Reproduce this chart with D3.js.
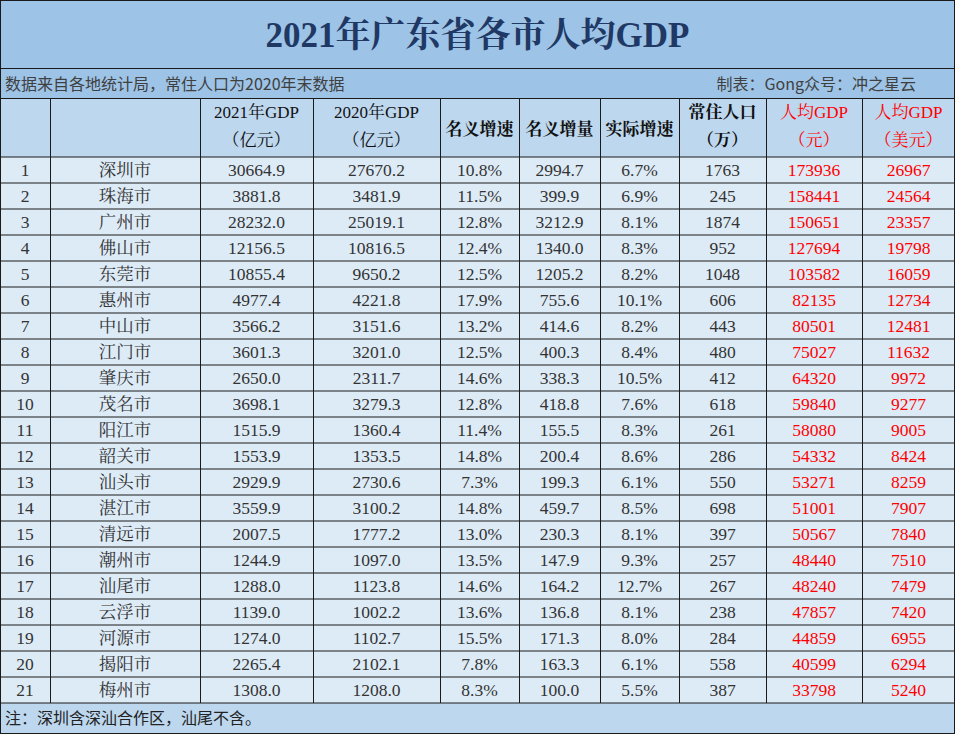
<!DOCTYPE html><html><head><meta charset="utf-8"><script src="https://d3js.org/d3.v7.min.js"></script>
<style>body{margin:0;background:#fff}</style></head><body><script>
const cities=["深圳市","珠海市","广州市","佛山市","东莞市","惠州市","中山市","江门市","肇庆市","茂名市","阳江市","韶关市","汕头市","湛江市","清远市","潮州市","汕尾市","云浮市","河源市","揭阳市","梅州市"];
const gdp2021=["30664.9","3881.8","28232.0","12156.5","10855.4","4977.4","3566.2","3601.3","2650.0","3698.1","1515.9","1553.9","2929.9","3559.9","2007.5","1244.9","1288.0","1139.0","1274.0","2265.4","1308.0"];
const gdp2020=["27670.2","3481.9","25019.1","10816.5","9650.2","4221.8","3151.6","3201.0","2311.7","3279.3","1360.4","1353.5","2730.6","3100.2","1777.2","1097.0","1123.8","1002.2","1102.7","2102.1","1208.0"];
const nomRate=["10.8%","11.5%","12.8%","12.4%","12.5%","17.9%","13.2%","12.5%","14.6%","12.8%","11.4%","14.8%","7.3%","14.8%","13.0%","13.5%","14.6%","13.6%","15.5%","7.8%","8.3%"];
const nomInc=["2994.7","399.9","3212.9","1340.0","1205.2","755.6","414.6","400.3","338.3","418.8","155.5","200.4","199.3","459.7","230.3","147.9","164.2","136.8","171.3","163.3","100.0"];
const realRate=["6.7%","6.9%","8.1%","8.3%","8.2%","10.1%","8.2%","8.4%","10.5%","7.6%","8.3%","8.6%","6.1%","8.5%","8.1%","9.3%","12.7%","8.1%","8.0%","6.1%","5.5%"];
const pop=[1763,245,1874,952,1048,606,443,480,412,618,261,286,550,698,397,257,267,238,284,558,387];
const perCny=[173936,158441,150651,127694,103582,82135,80501,75027,64320,59840,58080,54332,53271,51001,50567,48440,48240,47857,44859,40599,33798];
const perUsd=[26967,24564,23357,19798,16059,12734,12481,11632,9972,9277,9005,8424,8259,7907,7840,7510,7479,7420,6955,6294,5240];
const headers=[["",""],["",""],["2021年GDP","（亿元）"],["2020年GDP","（亿元）"],["名义增速"],["名义增量"],["实际增速"],["常住人口","（万）"],["人均GDP","（元）"],["人均GDP","（美元）"]];
const colW=[50,150,113,127,79,81,79,87,96,93];
const W=955, serif="'Liberation Serif','Noto Serif CJK SC','Noto Sans CJK SC',serif", sans="'Noto Sans CJK SC',sans-serif";
const svg=d3.select("body").append("svg").attr("width",956).attr("height",735);
const colX=[0];colW.forEach(w=>colX.push(colX[colX.length-1]+w));
const rowsData=cities.map((c,i)=>[String(i+1),c,gdp2021[i],gdp2020[i],nomRate[i],nomInc[i],realRate[i],String(pop[i]),String(perCny[i]),String(perUsd[i])]);
const y=d3.scaleBand().domain(d3.range(rowsData.length)).range([157,703]);
const line="#1a1a1a";
svg.append("rect").attr("x",0).attr("y",0).attr("width",W).attr("height",98).attr("fill","#9dc3e6");
svg.append("text").attr("x",W/2).attr("y",47).attr("text-anchor","middle").attr("font-family",serif).attr("font-weight","bold").attr("font-size",35).attr("fill","#1f3864").text("2021年广东省各市人均GDP");
svg.append("text").attr("x",5).attr("y",90).attr("font-family",sans).attr("font-size",16).attr("fill","#404040").text("数据来自各地统计局，常住人口为2020年末数据");
svg.append("text").attr("x",916).attr("y",90).attr("text-anchor","end").attr("font-family",sans).attr("font-size",16).attr("fill","#404040").text("制表：Gong众号：冲之星云");
svg.append("rect").attr("x",0).attr("y",98).attr("width",W).attr("height",59).attr("fill","#bdd7ee");
headers.forEach((h,j)=>{const cx=colX[j]+colW[j]/2;const red=j>=8;
 h.forEach((t,k)=>{if(!t)return;svg.append("text").attr("x",cx).attr("y",h.length==1?135:118+k*28).attr("text-anchor","middle")
 .attr("font-family",serif).attr("font-weight",j>=4&&j<=7?"bold":"normal").attr("font-size",17).attr("fill",red?"#ff0000":"#111").text(t);});});
const g=svg.selectAll("g.row").data(rowsData).join("g").attr("transform",(d,i)=>`translate(0,${y(i)})`);
g.append("rect").attr("width",W).attr("height",y.bandwidth()).attr("fill","#ddebf7");
g.selectAll("text").data(d=>d).join("text").attr("x",(d,j)=>colX[j]+colW[j]/2).attr("y",y.bandwidth()/2+6).attr("text-anchor","middle")
 .attr("font-family",serif).attr("font-size",17.5).attr("fill",(d,j)=>j>=8?"#ff0000":"#333").text(d=>d);
svg.append("rect").attr("x",0).attr("y",703).attr("width",W).attr("height",31).attr("fill","#bdd7ee");
svg.append("text").attr("x",5).attr("y",724).attr("font-family",sans).attr("font-size",16).attr("fill","#222").text("注：深圳含深汕合作区，汕尾不含。");
const hl=[0.5,68.5,98.5,157].concat(d3.range(1,22).map(i=>y(i-1)+y.bandwidth())).concat([733.5]);
hl.forEach(v=>svg.append("line").attr("x1",0).attr("x2",W).attr("y1",v).attr("y2",v).attr("stroke",line));
colX.forEach((v,j)=>{const top=(j==0||j==colX.length-1)?0:98, bot=(j==0||j==colX.length-1)?734:703;
 svg.append("line").attr("x1",j==colX.length-1?v-0.5:v+0.5).attr("x2",j==colX.length-1?v-0.5:v+0.5).attr("y1",top).attr("y2",bot).attr("stroke",line);});
</script></body></html>
